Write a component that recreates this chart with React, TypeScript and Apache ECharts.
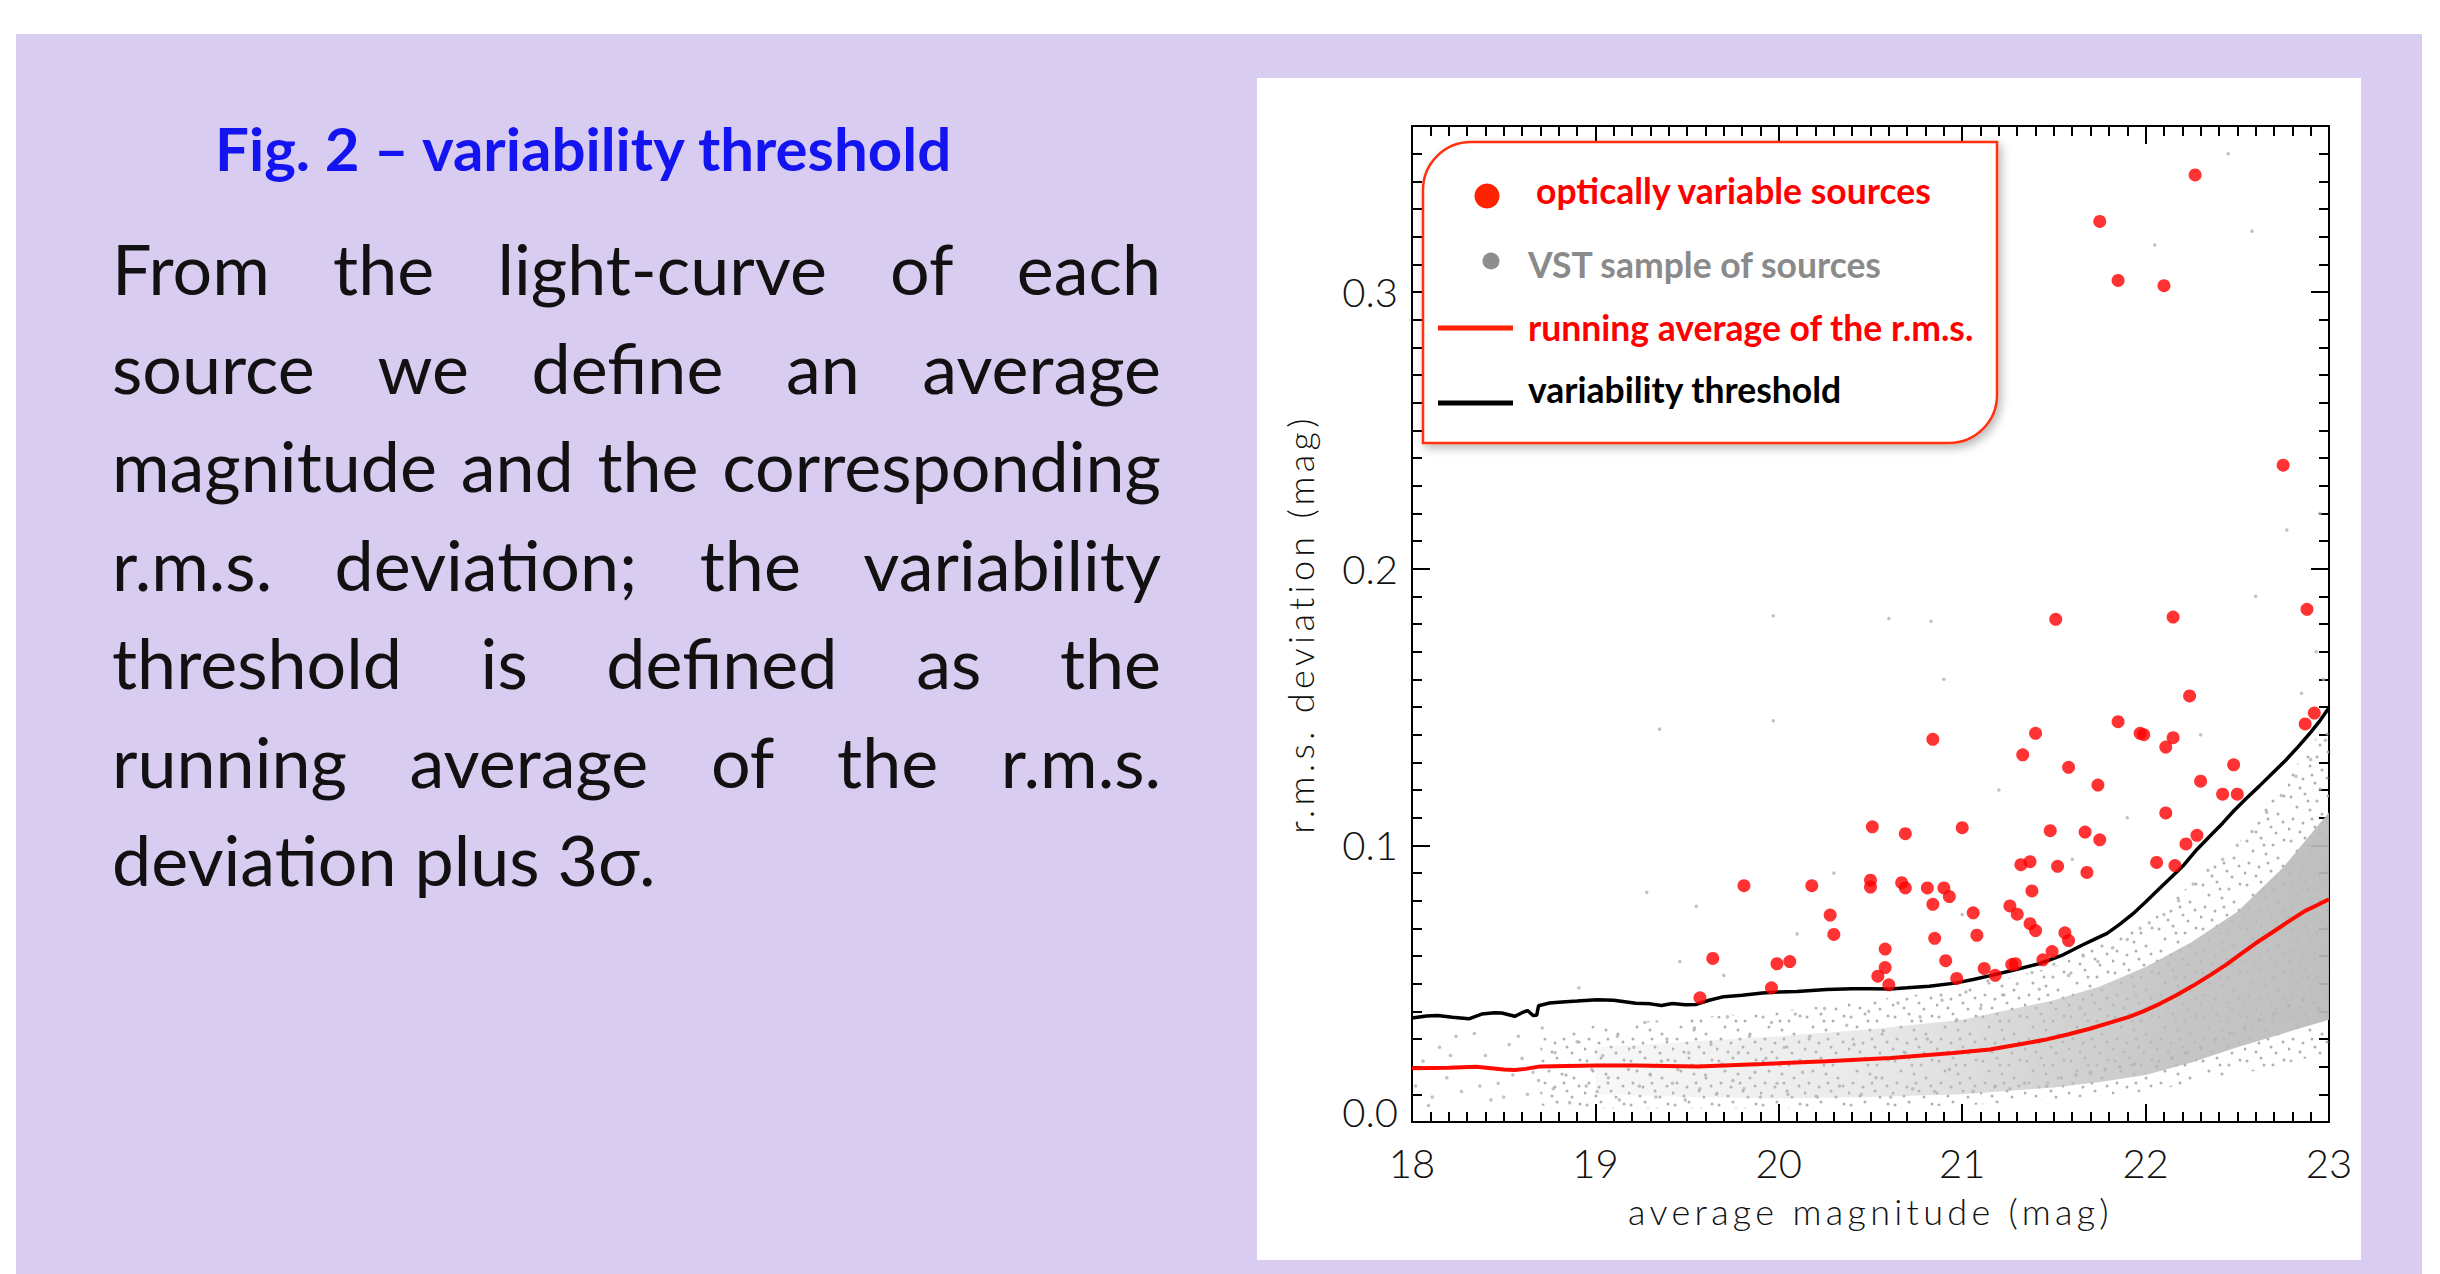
import React, { useEffect, useRef } from "react";
import * as echarts from "echarts";

// ---------- data ----------
const magnitudeRange = [18, 23];
const rmsRange = [0, 0.36];

// running average of the r.m.s. (red line): [mag, rms]
const runningAverage: [number, number][] = [
  [18.0, 0.0194], [18.2, 0.0196], [18.35, 0.02], [18.5, 0.019], [18.56, 0.0188],
  [18.62, 0.0192], [18.7, 0.0201], [19.0, 0.0204], [19.22, 0.0204], [19.56, 0.0201],
  [19.91, 0.021], [20.26, 0.022], [20.61, 0.0231], [20.95, 0.0249], [21.15, 0.0262],
  [21.3, 0.0279], [21.45, 0.0297], [21.58, 0.0317], [21.7, 0.0338], [21.82, 0.0362],
  [21.91, 0.038], [21.99, 0.0401], [22.08, 0.0428], [22.17, 0.0459], [22.26, 0.0493],
  [22.35, 0.053], [22.44, 0.0569], [22.52, 0.0608], [22.6, 0.0646], [22.69, 0.0685],
  [22.78, 0.0725], [22.87, 0.0763], [22.94, 0.0785], [23.0, 0.0805],
];

// variability threshold (black line): [mag, rms]
const threshold: [number, number][] = [
  [18.0, 0.0376], [18.08, 0.0383], [18.14, 0.0385], [18.22, 0.0379], [18.31, 0.0373],
  [18.38, 0.039], [18.45, 0.0395], [18.49, 0.0394], [18.56, 0.0382], [18.6, 0.0395],
  [18.63, 0.0403], [18.66, 0.0385], [18.68, 0.0386], [18.69, 0.042], [18.75, 0.043],
  [18.8, 0.0433], [18.9, 0.0437], [19.01, 0.0442], [19.1, 0.044], [19.22, 0.0429],
  [19.3, 0.0427], [19.36, 0.0421], [19.42, 0.0428], [19.49, 0.0424], [19.55, 0.0425],
  [19.62, 0.044], [19.7, 0.0453], [19.8, 0.0458], [19.91, 0.0466], [20.0, 0.047],
  [20.1, 0.0472], [20.26, 0.0479], [20.4, 0.0482], [20.5, 0.0482], [20.61, 0.0481],
  [20.7, 0.0485], [20.82, 0.0491], [20.96, 0.0502], [21.06, 0.0515], [21.16, 0.053],
  [21.3, 0.0552], [21.42, 0.0572], [21.54, 0.0601], [21.65, 0.0638], [21.72, 0.066],
  [21.79, 0.0682], [21.86, 0.0715], [21.93, 0.0752], [22.0, 0.0795], [22.07, 0.084],
  [22.14, 0.0885], [22.21, 0.093], [22.28, 0.0985], [22.35, 0.1033], [22.42, 0.108],
  [22.48, 0.1124], [22.55, 0.117], [22.62, 0.1214], [22.69, 0.126], [22.76, 0.1305],
  [22.83, 0.1355], [22.9, 0.1408], [22.95, 0.145], [23.0, 0.1497],
];

// optically variable sources (red dots): [mag, rms]
const variableSources: [number, number][] = [
  [22.27, 0.3423], [21.75, 0.3255], [21.85, 0.3042], [22.1, 0.3023], [22.75, 0.2374],
  [22.88, 0.1853], [21.51, 0.1817], [22.15, 0.1825], [22.24, 0.154], [22.92, 0.1478],
  [22.87, 0.1439], [21.85, 0.1447], [21.97, 0.1405], [21.99, 0.14], [22.11, 0.1355],
  [22.15, 0.1389], [20.84, 0.1383], [21.4, 0.1405], [21.33, 0.1327], [21.58, 0.1282],
  [22.48, 0.1291], [22.3, 0.1232], [21.74, 0.1218], [22.42, 0.1185], [22.5, 0.1185],
  [22.11, 0.1117], [20.51, 0.1067], [20.69, 0.1042], [21.0, 0.1064], [21.48, 0.1053],
  [21.67, 0.1048], [21.75, 0.102], [22.28, 0.1036], [22.22, 0.1005], [22.06, 0.0938],
  [22.16, 0.0927], [21.32, 0.093], [21.37, 0.0941], [21.52, 0.0924], [21.68, 0.0902],
  [19.81, 0.0854], [20.18, 0.0854], [20.5, 0.0874], [20.5, 0.0849], [20.67, 0.0865],
  [20.69, 0.0846], [20.81, 0.0846], [20.9, 0.0846], [20.93, 0.0815], [20.84, 0.0787],
  [21.38, 0.0835], [20.28, 0.0748], [20.3, 0.0678], [21.06, 0.0756], [21.08, 0.0675],
  [20.85, 0.0664], [21.26, 0.0781], [21.3, 0.0751], [21.37, 0.0717], [21.4, 0.0692],
  [21.56, 0.0684], [21.58, 0.0656], [21.49, 0.0616], [21.44, 0.0586], [20.58, 0.0625],
  [20.58, 0.0558], [20.54, 0.0527], [20.6, 0.0496], [20.91, 0.0583], [20.97, 0.0519],
  [21.12, 0.0555], [21.18, 0.053], [21.27, 0.0569], [21.29, 0.0572], [19.64, 0.0591],
  [19.99, 0.0572], [20.06, 0.058], [19.96, 0.0485], [19.57, 0.0449],
];

// VST sample: envelope of the dense core of the cloud
const cloudMag = [19.0, 19.5, 20.0, 20.5, 21.0, 21.5, 21.75, 22.0, 22.25, 22.5, 22.75, 23.0];
const cloudLow = [0.01, 0.009, 0.0085, 0.009, 0.01, 0.0125, 0.0145, 0.017, 0.0215, 0.027, 0.032, 0.037];
const cloudHigh = [0.027, 0.029, 0.031, 0.0335, 0.037, 0.044, 0.049, 0.056, 0.065, 0.076, 0.092, 0.112];

// VST sample: outer extent of the sparse part of the cloud
const haloMag = [18.7, 19.0, 20.0, 21.0, 21.5, 22.0, 22.5, 23.0];
const haloLow = [0.006, 0.005, 0.005, 0.006, 0.008, 0.011, 0.017, 0.025];
const haloHigh = [0.03, 0.035, 0.04, 0.048, 0.056, 0.072, 0.1, 0.145];

// VST sample: individual scattered sources
const sampleSources: [number, number][] = [
  [18.02, 0.013], [18.06, 0.022], [18.11, 0.009], [18.15, 0.027], [18.19, 0.016], [18.24, 0.031],
  [18.27, 0.011], [18.33, 0.02], [18.34, 0.032], [18.4, 0.024], [18.43, 0.008], [18.47, 0.014],
  [18.53, 0.028], [18.55, 0.017], [18.6, 0.023], [18.63, 0.01], [18.69, 0.015], [18.71, 0.034],
  [18.77, 0.012], [18.78, 0.025], [18.84, 0.017], [18.86, 0.007], [18.9, 0.029], [18.91, 0.0485],
  [18.95, 0.013], [18.98, 0.019], [18.09, 0.006], [18.21, 0.024], [18.37, 0.013], [18.5, 0.009],
  [18.58, 0.031], [18.66, 0.018],
  [19.01, 0.011], [19.04, 0.024], [19.07, 0.016], [19.12, 0.031], [19.13, 0.008], [19.18, 0.019],
  [19.21, 0.027], [19.24, 0.013], [19.27, 0.036], [19.28, 0.083], [19.3, 0.017], [19.33, 0.009],
  [19.36, 0.022], [19.35, 0.142], [19.39, 0.03], [19.42, 0.014], [19.45, 0.019], [19.46, 0.058],
  [19.49, 0.008], [19.51, 0.025], [19.54, 0.034], [19.55, 0.078], [19.57, 0.012], [19.6, 0.017],
  [19.63, 0.028], [19.66, 0.01], [19.69, 0.021], [19.7, 0.053], [19.72, 0.038], [19.75, 0.015],
  [19.78, 0.025], [19.81, 0.012], [19.84, 0.031], [19.87, 0.018], [19.9, 0.009], [19.93, 0.023],
  [19.96, 0.036], [19.97, 0.145], [19.97, 0.183], [19.99, 0.014],
  [20.03, 0.027], [20.05, 0.01], [20.09, 0.039], [20.1, 0.068], [20.13, 0.018], [20.17, 0.031],
  [20.21, 0.009], [20.25, 0.041], [20.29, 0.022], [20.3, 0.09], [20.33, 0.013], [20.37, 0.035],
  [20.41, 0.028], [20.45, 0.01], [20.49, 0.04], [20.53, 0.016], [20.57, 0.033], [20.6, 0.182],
  [20.61, 0.009], [20.65, 0.043], [20.69, 0.025], [20.73, 0.012], [20.77, 0.038], [20.81, 0.03],
  [20.83, 0.181], [20.85, 0.011], [20.89, 0.044], [20.9, 0.16], [20.93, 0.019], [20.97, 0.037],
  [21.0, 0.075], [21.02, 0.047], [21.06, 0.011], [21.1, 0.041], [21.14, 0.051], [21.18, 0.013],
  [21.2, 0.12], [21.22, 0.046], [21.26, 0.012], [21.3, 0.05], [21.34, 0.014], [21.38, 0.054],
  [21.42, 0.048], [21.46, 0.013], [21.5, 0.057], [21.54, 0.016], [21.58, 0.053], [21.6, 0.095],
  [21.62, 0.017], [21.66, 0.06], [21.7, 0.018], [21.74, 0.058], [21.78, 0.019], [21.82, 0.063],
  [21.86, 0.02], [21.9, 0.11], [21.9, 0.066], [21.94, 0.021], [21.97, 0.07],
  [22.02, 0.072], [22.05, 0.317], [22.06, 0.02], [22.1, 0.075], [22.14, 0.023], [22.18, 0.08],
  [22.22, 0.025], [22.26, 0.086], [22.3, 0.027], [22.3, 0.14], [22.34, 0.091], [22.38, 0.03],
  [22.42, 0.095], [22.45, 0.35], [22.46, 0.032], [22.5, 0.1], [22.54, 0.034], [22.58, 0.322],
  [22.58, 0.105], [22.6, 0.19], [22.62, 0.037], [22.66, 0.112], [22.7, 0.039], [22.74, 0.118],
  [22.77, 0.214], [22.78, 0.042], [22.82, 0.125], [22.85, 0.155], [22.86, 0.044], [22.9, 0.131],
  [22.93, 0.17], [22.94, 0.041], [22.95, 0.22], [22.97, 0.16], [22.98, 0.138],
];

// ---------- texts ----------
const titleText = "Fig. 2 – variability threshold";
const bodyLines = [
  "From the light-curve of each",
  "source we define an average",
  "magnitude and the corresponding",
  "r.m.s. deviation; the variability",
  "threshold is defined as the",
  "running average of the r.m.s.",
  "deviation plus 3σ.",
];
const seriesNames = [
  "optically variable sources",
  "VST sample of sources",
  "running average of the r.m.s.",
  "variability threshold",
];
const xAxisName = "average magnitude (mag)";
const yAxisName = "r.m.s. deviation (mag)";

// ---------- layout / style constants ----------
const W = 2440;
const H = 1274;
const BODY_FS = 70;
const BODY_LEFT = 112;
const BODY_RIGHT = 1161;
const BODY_FIRST_MID = 268;
const BODY_LH = 98.5;
const AXIS_FONT = "Lato";
const AXIS_NAME_FONT = "Lato, LatoSpaced";
const LEGEND_FS = 35.5;
// speckle texture tile (pure styling of the sparse cloud)
const SPECKLE_TILE = 44;
const speckleLayout = [
  [3, 5], [17, 2], [29, 9], [40, 4], [9, 15], [22, 18], [34, 22], [5, 27],
  [15, 31], [27, 35], [39, 30], [12, 40], [24, 27], [32, 41], [1, 37], [20, 9],
];

const css = `
text[style*="LatoSpaced"], text[font-family*="LatoSpaced"] { letter-spacing: 4.3px; }
`;

function makeSpeckle(): HTMLCanvasElement {
  const c = document.createElement("canvas");
  c.width = SPECKLE_TILE;
  c.height = SPECKLE_TILE;
  const g = c.getContext("2d")!;
  g.fillStyle = "rgba(172,172,172,0.95)";
  speckleLayout.forEach(([x, y]) => {
    g.beginPath();
    g.arc(x, y, 1.5, 0, Math.PI * 2);
    g.fill();
  });
  return c;
}

function buildBodyText(): any[] {
  const canvas = document.createElement("canvas");
  const ctx = canvas.getContext("2d")!;
  ctx.font = `400 ${BODY_FS}px Lato`;
  const els: any[] = [];
  bodyLines.forEach((line, i) => {
    const y = BODY_FIRST_MID + i * BODY_LH;
    const words = line.split(" ");
    const base = {
      fontSize: BODY_FS,
      fontFamily: "Lato",
      fontWeight: 400,
      fill: "#111111",
      textAlign: "left",
      align: "left",
      textVerticalAlign: "middle",
      verticalAlign: "middle",
    };
    if (i === bodyLines.length - 1 || words.length < 2) {
      els.push({ type: "text", x: BODY_LEFT, y, z: 10, style: { ...base, text: line } });
      return;
    }
    const widths = words.map((w) => ctx.measureText(w).width);
    const total = widths.reduce((a, b) => a + b, 0);
    const gap = (BODY_RIGHT - BODY_LEFT - total) / (words.length - 1);
    let x = BODY_LEFT;
    words.forEach((w, j) => {
      els.push({ type: "text", x, y, z: 10, style: { ...base, text: w } });
      x += widths[j] + gap;
    });
  });
  return els;
}

function legendElements(): any[] {
  const txt = (text: string, x: number, y: number, fill: string) => ({
    type: "text",
    x,
    y,
    z: 102,
    style: {
      text,
      fontSize: LEGEND_FS,
      fontFamily: "Lato",
      fontWeight: 700,
      fill,
      textAlign: "left",
      align: "left",
      textVerticalAlign: "middle",
      verticalAlign: "middle",
    },
  });
  return [
    {
      type: "rect",
      z: 100,
      shape: { x: 1423, y: 142, width: 574, height: 301, r: [48, 0, 48, 0] },
      style: {
        fill: "#ffffff",
        stroke: "#ff3010",
        lineWidth: 2.5,
        shadowBlur: 10,
        shadowColor: "rgba(0,0,0,0.28)",
        shadowOffsetX: 3,
        shadowOffsetY: 4,
      },
    },
    { type: "circle", z: 101, shape: { cx: 1487, cy: 196, r: 12.5 }, style: { fill: "#ff2200" } },
    txt(seriesNames[0], 1536, 190, "#ff0000"),
    { type: "circle", z: 101, shape: { cx: 1491, cy: 261, r: 8.5 }, style: { fill: "#8e8e8e" } },
    txt(seriesNames[1], 1528, 264, "#8a8a8a"),
    { type: "line", z: 101, shape: { x1: 1438, y1: 328, x2: 1513, y2: 328 }, style: { stroke: "#ff2200", lineWidth: 5 } },
    txt(seriesNames[2], 1528, 327, "#ff0000"),
    { type: "line", z: 101, shape: { x1: 1438, y1: 403, x2: 1513, y2: 403 }, style: { stroke: "#000000", lineWidth: 5 } },
    txt(seriesNames[3], 1528, 389, "#000000"),
  ];
}

function buildOption(): any {
  const tickLine = { color: "#000000", width: 2 };
  const labelStyle = { fontFamily: AXIS_FONT, fontWeight: 300, fontSize: 40, color: "#111111" };
  const xBase = {
    type: "value",
    min: magnitudeRange[0],
    max: magnitudeRange[1],
    interval: 1,
    splitLine: { show: false },
    axisLine: { show: true, onZero: false, lineStyle: tickLine },
    axisTick: { show: true, inside: true, length: 18, lineStyle: tickLine },
    minorTick: { show: true, splitNumber: 10, length: 10, lineStyle: tickLine },
  };
  const yMajor = {
    type: "value",
    min: rmsRange[0],
    max: rmsRange[1],
    interval: 0.1,
    splitLine: { show: false },
    axisLine: { show: true, onZero: false, lineStyle: tickLine },
    axisTick: { show: true, inside: true, length: 18, lineStyle: tickLine },
  };
  const yMinor = {
    type: "value",
    min: rmsRange[0],
    max: rmsRange[1],
    interval: 0.01,
    splitLine: { show: false },
    axisLine: { show: false },
    axisTick: { show: true, inside: true, length: 10, lineStyle: tickLine },
    axisLabel: { show: false },
  };

  const bandGradient = new echarts.graphic.LinearGradient(1, 0, 0, 0, [
    { offset: 0, color: "rgba(186,186,186,0.93)" },
    { offset: 0.2, color: "rgba(188,188,188,0.86)" },
    { offset: 0.4, color: "rgba(190,190,190,0.64)" },
    { offset: 0.62, color: "rgba(193,193,193,0.36)" },
    { offset: 1, color: "rgba(196,196,196,0.12)" },
  ]);
  const speckle = { image: makeSpeckle(), repeat: "repeat" };

  const bandPolygon = (api: any, mags: number[], low: number[], high: number[], fill: any) => {
    const top = mags.map((m, i) => api.coord([m, high[i]]));
    const bottom = mags.map((m, i) => api.coord([m, low[i]])).reverse();
    return { type: "polygon", shape: { points: top.concat(bottom) }, style: { fill } };
  };

  return {
    animation: false,
    backgroundColor: "#ffffff",
    grid: { left: 1412, top: 126, width: 917, height: 996, containLabel: false },
    xAxis: [
      {
        ...xBase,
        position: "bottom",
        axisLabel: { ...labelStyle, margin: 21, formatter: (v: number) => String(v) },
        name: xAxisName,
        nameLocation: "middle",
        nameGap: 89,
        nameTextStyle: { fontFamily: AXIS_NAME_FONT, fontWeight: 300, fontSize: 36, color: "#111111", verticalAlign: "middle" },
      },
      { ...xBase, position: "top", axisLabel: { show: false } },
    ],
    yAxis: [
      {
        ...yMajor,
        position: "left",
        axisLabel: {
          ...labelStyle,
          margin: 14,
          showMaxLabel: false,
          formatter: (v: number) => (v === 0 ? "{z|0.0}" : v.toFixed(1)),
          rich: { z: { ...labelStyle, padding: [0, 0, 20, 0] } },
        },
        name: yAxisName,
        nameLocation: "middle",
        nameGap: 112,
        nameRotate: 90,
        nameTextStyle: { fontFamily: AXIS_NAME_FONT, fontWeight: 300, fontSize: 36, color: "#111111", verticalAlign: "middle" },
      },
      { ...yMinor, position: "left" },
      { ...yMajor, position: "right", axisLabel: { show: false } },
      { ...yMinor, position: "right" },
    ],
    graphic: {
      elements: [
        { type: "rect", z: -20, silent: true, shape: { x: 16, y: 34, width: 2406, height: 1240 }, style: { fill: "#d8ccf1" } },
        { type: "rect", z: -19, silent: true, shape: { x: 1257, y: 78, width: 1104, height: 1182 }, style: { fill: "#ffffff" } },
        {
          type: "text",
          x: 215,
          y: 148,
          z: 10,
          style: {
            text: titleText,
            fontSize: 60,
            fontFamily: "Lato",
            fontWeight: 700,
            fill: "#1414f0",
            textAlign: "left",
            align: "left",
            textVerticalAlign: "middle",
            verticalAlign: "middle",
          },
        },
        ...buildBodyText(),
        ...legendElements(),
      ],
    },
    series: [
      {
        name: "VST sample density",
        type: "custom",
        silent: true,
        z: 1,
        clip: true,
        data: cloudMag.map((m, i) => [m, cloudLow[i], cloudHigh[i]]),
        encode: { x: 0, y: [1, 2] },
        renderItem: (params: any, api: any) => {
          if (params.dataIndex !== 0) return null;
          return {
            type: "group",
            children: [
              bandPolygon(api, haloMag, haloLow, haloHigh, speckle),
              bandPolygon(api, cloudMag, cloudLow, cloudHigh, bandGradient),
            ],
          };
        },
      },
      {
        name: seriesNames[1],
        type: "scatter",
        z: 2,
        silent: true,
        symbol: "circle",
        symbolSize: 3.5,
        itemStyle: { color: "#b2b2b2" },
        data: sampleSources,
      },
      {
        name: seriesNames[2],
        type: "line",
        z: 3,
        silent: true,
        showSymbol: false,
        symbol: "none",
        lineStyle: { color: "#ff0a00", width: 4 },
        data: runningAverage,
      },
      {
        name: seriesNames[3],
        type: "line",
        z: 4,
        silent: true,
        showSymbol: false,
        symbol: "none",
        lineStyle: { color: "#000000", width: 3.5 },
        data: threshold,
      },
      {
        name: seriesNames[0],
        type: "scatter",
        z: 5,
        silent: true,
        symbol: "circle",
        symbolSize: 13,
        itemStyle: { color: "#ff0000" },
        data: variableSources,
      },
    ],
  };
}

export default function App() {
  const ref = useRef<HTMLDivElement>(null);
  useEffect(() => {
    if (!ref.current) return;
    const chart = echarts.init(ref.current, null, { renderer: "svg" });
    chart.setOption(buildOption());
    return () => {
      chart.dispose();
    };
  }, []);
  return (
    <>
      <style>{css}</style>
      <div
        ref={ref}
        style={{ position: "fixed", left: 0, top: 0, width: W, height: H, background: "#ffffff" }}
      />
    </>
  );
}
